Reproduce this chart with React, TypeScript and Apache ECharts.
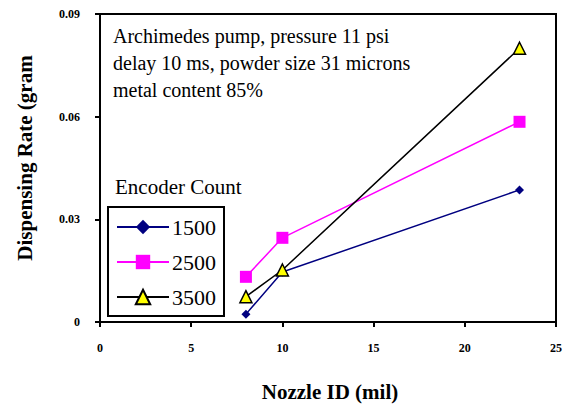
import React, { useEffect, useRef } from "react";
import * as echarts from "echarts";

const nozzleIds = [8, 10, 23];
const count1500 = [0.0023, 0.0146, 0.0386];
const count2500 = [0.0132, 0.0246, 0.0585];
const count3500 = [0.0074, 0.0152, 0.08];
const seriesNames = ["1500", "2500", "3500"];
const noteLines = [
  "Archimedes pump, pressure 11 psi",
  "delay 10 ms, powder size 31 microns",
  "metal content 85%",
];

const SERIF = "Liberation Serif";

export default function App() {
  const ref = useRef<HTMLDivElement>(null);
  useEffect(() => {
    if (!ref.current) return;
    const chart = echarts.init(ref.current, null, { renderer: "svg" });
    const pts = (ys: number[]) => nozzleIds.map((x, i) => [x, ys[i]]);
    chart.setOption({
      animation: false,
      textStyle: { fontFamily: SERIF },
      grid: {
        left: 100,
        right: 15,
        top: 14,
        bottom: 84,
        show: true,
        borderColor: "#000",
        borderWidth: 2,
      },
      xAxis: {
        type: "value",
        min: 0,
        max: 25,
        interval: 5,
        axisLine: { show: true, lineStyle: { color: "#000", width: 2 } },
        axisTick: { show: true, length: 5, lineStyle: { color: "#000", width: 2 } },
        splitLine: { show: false },
        axisLabel: {
          margin: 20,
          color: "#000",
          fontFamily: SERIF,
          fontWeight: "bold",
          fontSize: 12,
        },
      },
      yAxis: {
        type: "value",
        min: 0,
        max: 0.09,
        interval: 0.03,
        axisLine: { show: true, lineStyle: { color: "#000", width: 2 } },
        axisTick: { show: true, length: 5, lineStyle: { color: "#000", width: 2 } },
        splitLine: { show: false },
        axisLabel: {
          margin: 20,
          color: "#000",
          fontFamily: SERIF,
          fontWeight: "bold",
          fontSize: 12,
          formatter: (v: number) => (v === 0 ? "0" : v.toFixed(2)),
        },
      },
      legend: {
        orient: "vertical",
        left: 108,
        top: 207,
        padding: [9, 8, 8, 8],
        itemGap: 13,
        itemWidth: 52,
        itemHeight: 18,
        borderColor: "#000",
        borderWidth: 2,
        data: seriesNames,
        textStyle: { fontFamily: SERIF, fontSize: 22, color: "#000", padding: [0, 0, 0, -2] },
      },
      graphic: [
        ...noteLines.map((t, i) => ({
          type: "text",
          left: 113,
          top: 26 + i * 27,
          style: { text: t, fontFamily: SERIF, fontSize: 20, fill: "#000" },
        })),
        {
          type: "text",
          left: 115,
          top: 176,
          style: { text: "Encoder Count", fontFamily: SERIF, fontSize: 21, fill: "#000" },
        },
        {
          type: "text",
          x: 25,
          y: 158,
          rotation: Math.PI / 2,
          style: {
            text: "Dispensing Rate (gram",
            fontFamily: SERIF,
            fontWeight: "bold",
            fontSize: 21,
            fill: "#000",
            align: "center",
            verticalAlign: "middle",
          },
        },
        {
          type: "text",
          x: 330,
          y: 392,
          style: {
            text: "Nozzle ID (mil)",
            fontFamily: SERIF,
            fontWeight: "bold",
            fontSize: 21,
            fill: "#000",
            align: "center",
            verticalAlign: "middle",
          },
        },
      ],
      series: [
        {
          name: seriesNames[0],
          type: "line",
          data: pts(count1500),
          symbol: "diamond",
          symbolSize: 9,
          lineStyle: { color: "#000080", width: 1.5 },
          itemStyle: { color: "#000080" },
        },
        {
          name: seriesNames[1],
          type: "line",
          data: pts(count2500),
          symbol: "rect",
          symbolSize: 12,
          lineStyle: { color: "#ff00ff", width: 1.5 },
          itemStyle: { color: "#ff00ff" },
        },
        {
          name: seriesNames[2],
          type: "line",
          data: pts(count3500),
          symbol: "triangle",
          symbolSize: 12,
          lineStyle: { color: "#000", width: 1.5 },
          itemStyle: { color: "#ffff00", borderColor: "#000", borderWidth: 1.5 },
        },
      ],
    });
    return () => chart.dispose();
  }, []);
  return (
    <div style={{ position: "absolute", left: 0, top: 0, width: 571, height: 406, background: "#ffffff", fontFamily: SERIF }}>
      <div ref={ref} style={{ width: 571, height: 406 }} />
    </div>
  );
}
